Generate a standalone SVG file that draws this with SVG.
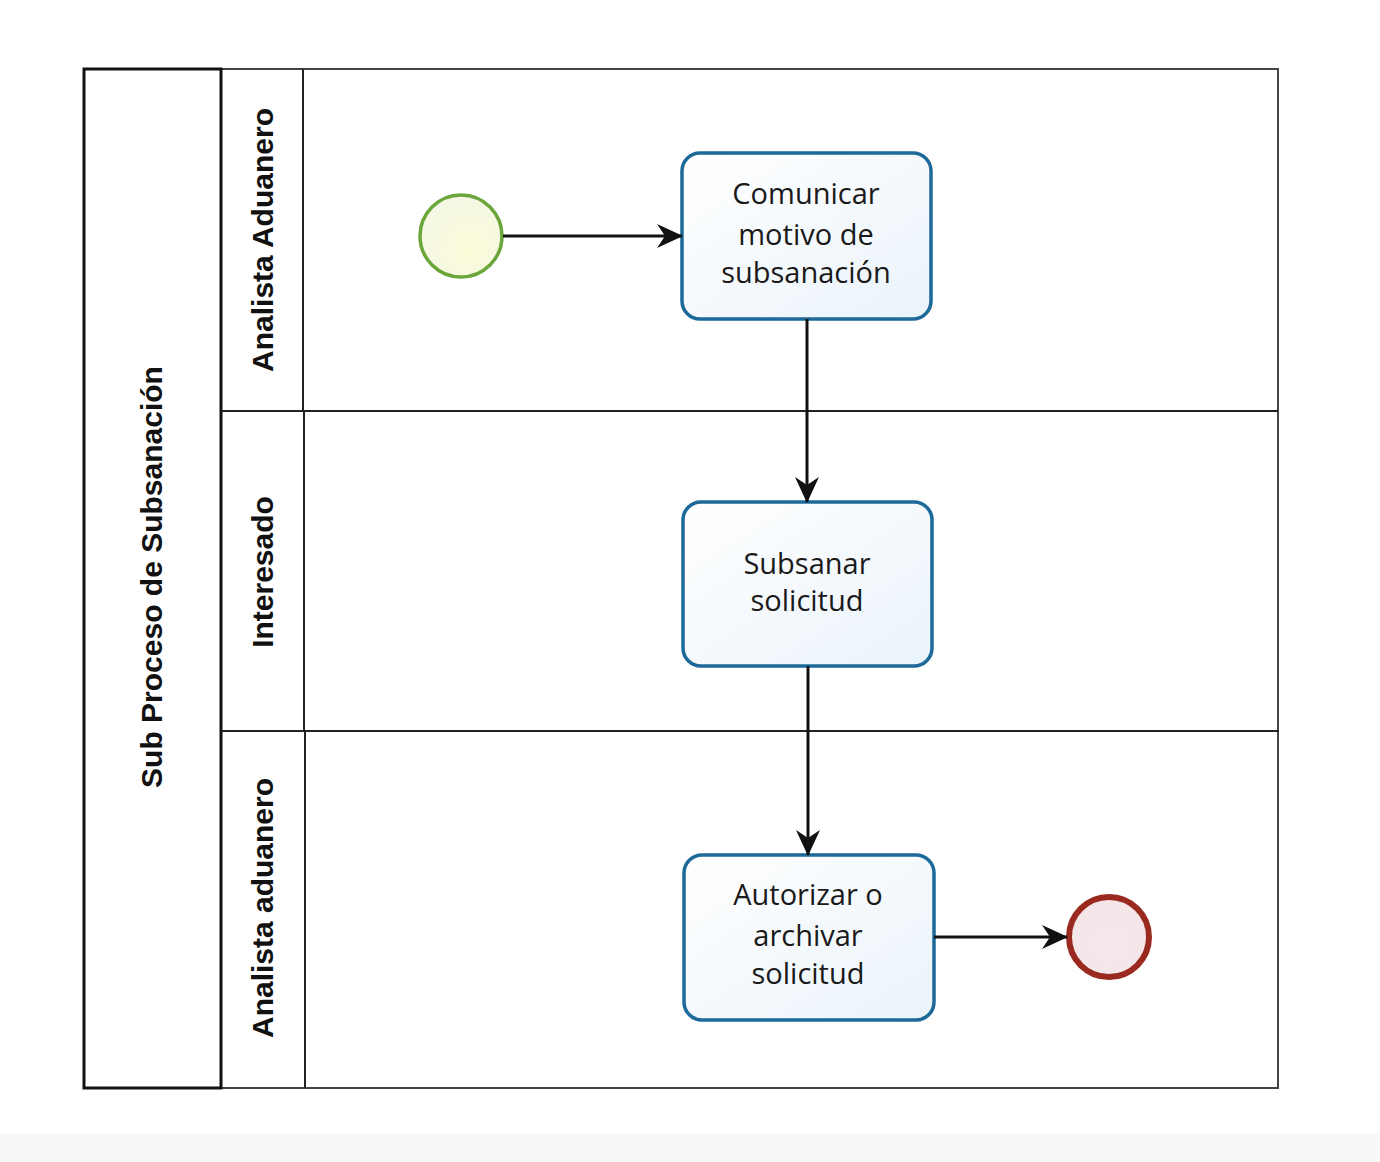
<svg xmlns="http://www.w3.org/2000/svg" width="1380" height="1162" viewBox="0 0 1380 1162">
<style>
.ln{fill:none;stroke:#222;stroke-width:2}
.lbl{font-family:"Liberation Sans",Arial,sans-serif;font-weight:bold;font-size:30px;fill:#111;text-anchor:middle}
.task rect{fill:url(#tg);stroke:#1d6a9a;stroke-width:3.5}
.task text{font-family:"Open Sans","DejaVu Sans",sans-serif;font-size:29px;fill:#1a1a1a;text-anchor:middle}
.flow{fill:none;stroke:#111;stroke-width:3;marker-end:url(#ah)}
</style>
<defs>
<linearGradient id="tg" x1="0" y1="0" x2="1" y2="1"><stop offset="0" stop-color="#ffffff"/><stop offset="1" stop-color="#eaf3fa"/></linearGradient>
<radialGradient id="sg" cx="0.6" cy="0.65" r="0.7"><stop offset="0" stop-color="#fbfbd8"/><stop offset="1" stop-color="#f4f7e6"/></radialGradient>
<radialGradient id="eg" cx="0.5" cy="0.6" r="0.7"><stop offset="0" stop-color="#f6e8ea"/><stop offset="1" stop-color="#f4e6e8"/></radialGradient>
<marker id="ah" markerWidth="26" markerHeight="26" refX="25" refY="13" orient="auto" markerUnits="userSpaceOnUse" viewBox="0 0 26 26">
<path d="M0,1 L26,13 L0,25 L8,13 Z" fill="#111"/>
</marker>
</defs>
<rect x="0" y="0" width="1380" height="1162" fill="#ffffff"/>
<rect x="0" y="1134" width="1380" height="28" fill="#f7f7f7"/>
<g id="pool">
<rect x="84" y="69" width="1194" height="1019" fill="#fff" stroke="#444" stroke-width="2"/>
<rect x="84" y="69" width="137" height="1019" fill="none" stroke="#111" stroke-width="3"/>
<text class="lbl" transform="translate(162,577) rotate(-90)">Sub Proceso de Subsanación</text>
</g>
<g id="lane1">
<line class="ln" x1="221" y1="411" x2="1278" y2="411"/>
<line class="ln" x1="303" y1="69" x2="303" y2="411"/>
<text class="lbl" transform="translate(273,240) rotate(-90)">Analista Aduanero</text>
</g>
<g id="lane2">
<line class="ln" x1="221" y1="731" x2="1279" y2="731"/>
<line class="ln" x1="304" y1="411" x2="304" y2="731"/>
<text class="lbl" transform="translate(273,572) rotate(-90)">Interesado</text>
</g>
<g id="lane3">
<line class="ln" x1="305" y1="731" x2="305" y2="1088"/>
<text class="lbl" transform="translate(273,908) rotate(-90)">Analista aduanero</text>
</g>
<g id="start">
<circle cx="461" cy="236" r="41" fill="url(#sg)" stroke="#6aa63a" stroke-width="3.5"/>
</g>
<g id="task1" class="task">
<rect x="682" y="153" width="249" height="166" rx="18"/>
<text x="806" y="204">Comunicar</text>
<text x="806" y="245">motivo de</text>
<text x="806" y="283">subsanación</text>
</g>
<g id="task2" class="task">
<rect x="683" y="502" width="249" height="164" rx="18"/>
<text x="807" y="574">Subsanar</text>
<text x="807" y="611">solicitud</text>
</g>
<g id="task3" class="task">
<rect x="684" y="855" width="250" height="165" rx="18"/>
<text x="808" y="905">Autorizar o</text>
<text x="808" y="946">archivar</text>
<text x="808" y="984">solicitud</text>
</g>
<g id="end">
<circle cx="1109" cy="937" r="40" fill="url(#eg)" stroke="#9a2a1f" stroke-width="6"/>
</g>
<g id="connectors">
<path class="flow" d="M503,236 L682,236"/>
<path class="flow" d="M807,319 L807,502"/>
<path class="flow" d="M808,666 L808,855"/>
<path class="flow" d="M934,937 L1067,937"/>
</g>
</svg>
